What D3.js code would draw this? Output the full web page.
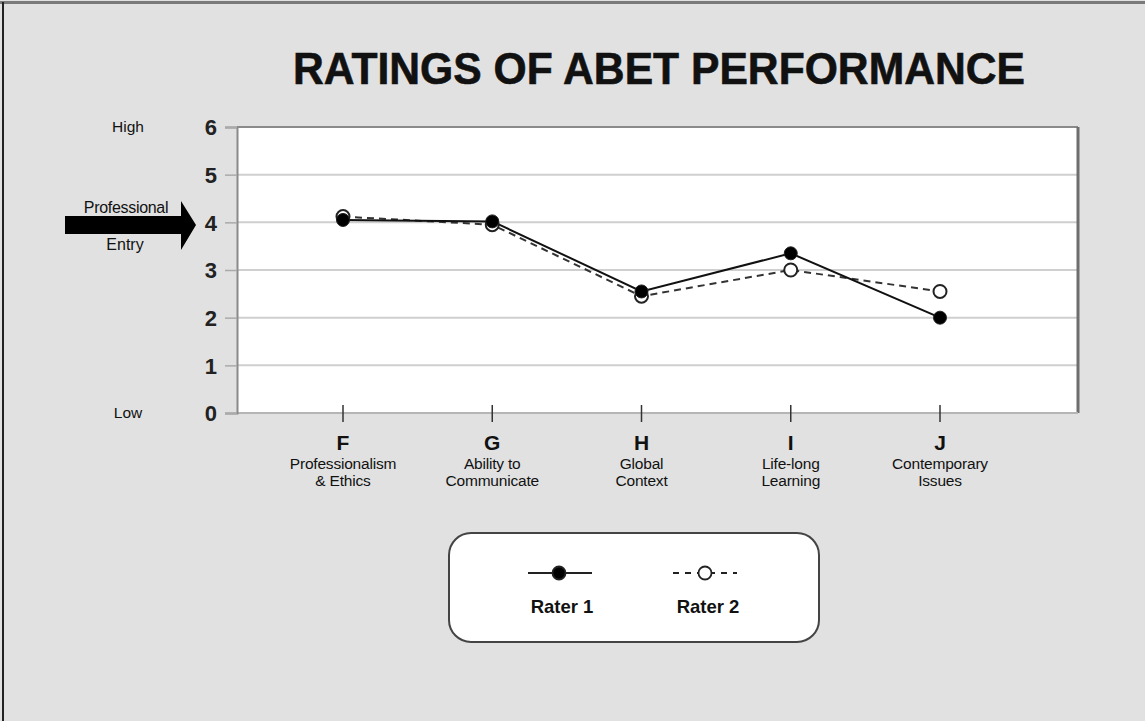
<!DOCTYPE html>
<html><head><meta charset="utf-8">
<script src="https://cdn.jsdelivr.net/npm/d3@7"></script>
<style>html,body{margin:0;padding:0;background:#e1e1e1;}svg{display:block;font-family:"Liberation Sans",Arial,sans-serif;}</style>
</head><body>
<script>
const categories = ["F","G","H","I","J"];
const categoryLines = [["Professionalism","& Ethics"],["Ability to","Communicate"],["Global","Context"],["Life-long","Learning"],["Contemporary","Issues"]];
const rater1 = [4.05, 4.02, 2.55, 3.35, 2.0];
const rater2 = [4.12, 3.95, 2.45, 3.0, 2.55];
const yTicks = [0,1,2,3,4,5,6];
const seriesNames = ["Rater 1","Rater 2"];

(function(){
const W = 1145, H = 721;
const svg = d3.select("body").append("svg").attr("width", W).attr("height", H);
svg.append("rect").attr("width", W).attr("height", H).attr("fill", "#e1e1e1");
// frame
svg.append("line").attr("x1",0).attr("x2",W).attr("y1",2.5).attr("y2",2.5).attr("stroke","#7a7a7a").attr("stroke-width",3);
svg.append("line").attr("x1",3).attr("x2",3).attr("y1",2).attr("y2",H).attr("stroke","#222").attr("stroke-width",2);

const pL = 237, pR = 1078, pT = 127, pB = 413;
const x = d3.scalePoint().domain(categories).range([343, 940]);
const y = d3.scaleLinear().domain([0,6]).range([pB, pT]);

svg.append("text").attr("x", 659).attr("y", 84).attr("text-anchor","middle")
  .attr("font-size", 44).attr("font-weight","bold").attr("fill","#111")
  .attr("stroke","#111").attr("stroke-width",0.6)
  .attr("textLength", 732).attr("lengthAdjust","spacingAndGlyphs")
  .text("RATINGS OF ABET PERFORMANCE");

// plot area
svg.append("rect").attr("x", pL).attr("y", pT).attr("width", pR-pL).attr("height", pB-pT).attr("fill","#fff");
// gridlines
svg.append("g").selectAll("line").data(yTicks.filter(d=>d>0&&d<6)).join("line")
  .attr("x1", pL).attr("x2", pR).attr("y1", d=>y(d)).attr("y2", d=>y(d))
  .attr("stroke","#cfcfcf").attr("stroke-width",2);
// borders
svg.append("line").attr("x1",pL).attr("x2",pR).attr("y1",pT).attr("y2",pT).attr("stroke","#8a8a8a").attr("stroke-width",2);
svg.append("line").attr("x1",pR).attr("x2",pR).attr("y1",pT).attr("y2",pB).attr("stroke","#6e6e6e").attr("stroke-width",3);
svg.append("line").attr("x1",pL).attr("x2",pR).attr("y1",pB).attr("y2",pB).attr("stroke","#b5b5b5").attr("stroke-width",2);

// y axis
const yAxis = d3.axisLeft(y).tickValues(yTicks).tickSize(12).tickPadding(8).tickFormat(d3.format("d"));
const gy = svg.append("g").attr("transform",`translate(${pL},0)`).call(yAxis);
gy.select(".domain").attr("stroke","#8a8a8a").attr("stroke-width",2);
gy.selectAll(".tick line").attr("stroke","#aaa").attr("stroke-width",1.5);
gy.selectAll(".tick text").attr("font-size",22).attr("font-weight","bold").attr("fill","#222").attr("font-family","Liberation Sans, Arial, sans-serif").attr("dy","0.36em");

// x axis ticks
const gx = svg.append("g").attr("transform",`translate(0,${pB})`);
gx.selectAll("line").data(categories).join("line")
  .attr("x1", d=>x(d)).attr("x2", d=>x(d)).attr("y1",-8).attr("y2",9)
  .attr("stroke","#333").attr("stroke-width",1.5);
gx.selectAll("text.letter").data(categories).join("text").attr("class","letter")
  .attr("x", d=>x(d)).attr("y", 37).attr("text-anchor","middle")
  .attr("font-size",21).attr("font-weight","bold").attr("fill","#111").text(d=>d);
categories.forEach((c,i)=>{
  categoryLines[i].forEach((t,j)=>{
    gx.append("text").attr("x", x(c)).attr("y", 56 + j*17).attr("text-anchor","middle")
      .attr("font-size",15.5).attr("fill","#111")
      .attr("letter-spacing","-0.2").text(t);
  });
});

// side labels
svg.append("text").attr("x",128).attr("y",132).attr("text-anchor","middle").attr("font-size",15.5).attr("fill","#111").text("High");
svg.append("text").attr("x",128).attr("y",418).attr("text-anchor","middle").attr("font-size",15.5).attr("fill","#111").text("Low");
svg.append("path").attr("d","M65,216 L181,216 L181,201 L196,225 L181,250 L181,234 L65,234 Z").attr("fill","#000");
svg.append("text").attr("x",126).attr("y",213).attr("text-anchor","middle").attr("font-size",16).attr("fill","#111").attr("letter-spacing","-0.3").text("Professional");
svg.append("text").attr("x",125).attr("y",250).attr("text-anchor","middle").attr("font-size",16).attr("fill","#111").text("Entry");

// lines
const line = d3.line().x((d,i)=>x(categories[i])).y(d=>y(d));
svg.append("path").datum(rater2).attr("d", line).attr("fill","none").attr("stroke","#333").attr("stroke-width",2).attr("stroke-dasharray","7,5");
svg.append("path").datum(rater1).attr("d", line).attr("fill","none").attr("stroke","#111").attr("stroke-width",2);
svg.append("g").selectAll("circle").data(rater2).join("circle")
  .attr("cx",(d,i)=>x(categories[i])).attr("cy",d=>y(d)).attr("r",6.5)
  .attr("fill","#fff").attr("stroke","#222").attr("stroke-width",2);
svg.append("g").selectAll("circle").data(rater1).join("circle")
  .attr("cx",(d,i)=>x(categories[i])).attr("cy",d=>y(d)).attr("r",6.5)
  .attr("fill","#000").attr("stroke","#222").attr("stroke-width",1);

// legend
svg.append("rect").attr("x",449).attr("y",533).attr("width",370).attr("height",109).attr("rx",22)
  .attr("fill","#fff").attr("stroke","#444").attr("stroke-width",2);
const lg = [{cx:559, x1:528, x2:592, dash:null, fill:"#000"},{cx:705, x1:673, x2:737, dash:"6,6", fill:"#fff"}];
lg.forEach((l,i)=>{
  svg.append("line").attr("x1",l.x1).attr("x2",l.x2).attr("y1",573).attr("y2",573).attr("stroke","#222").attr("stroke-width",1.8).attr("stroke-dasharray", l.dash);
  svg.append("circle").attr("cx",l.cx).attr("cy",573).attr("r",6.5).attr("fill",l.fill).attr("stroke","#222").attr("stroke-width",1.8);
  svg.append("text").attr("x",l.cx+3).attr("y",613).attr("text-anchor","middle").attr("font-size",18.5).attr("font-weight","bold").attr("fill","#111").text(seriesNames[i]);
});
})();
</script>
</body></html>
